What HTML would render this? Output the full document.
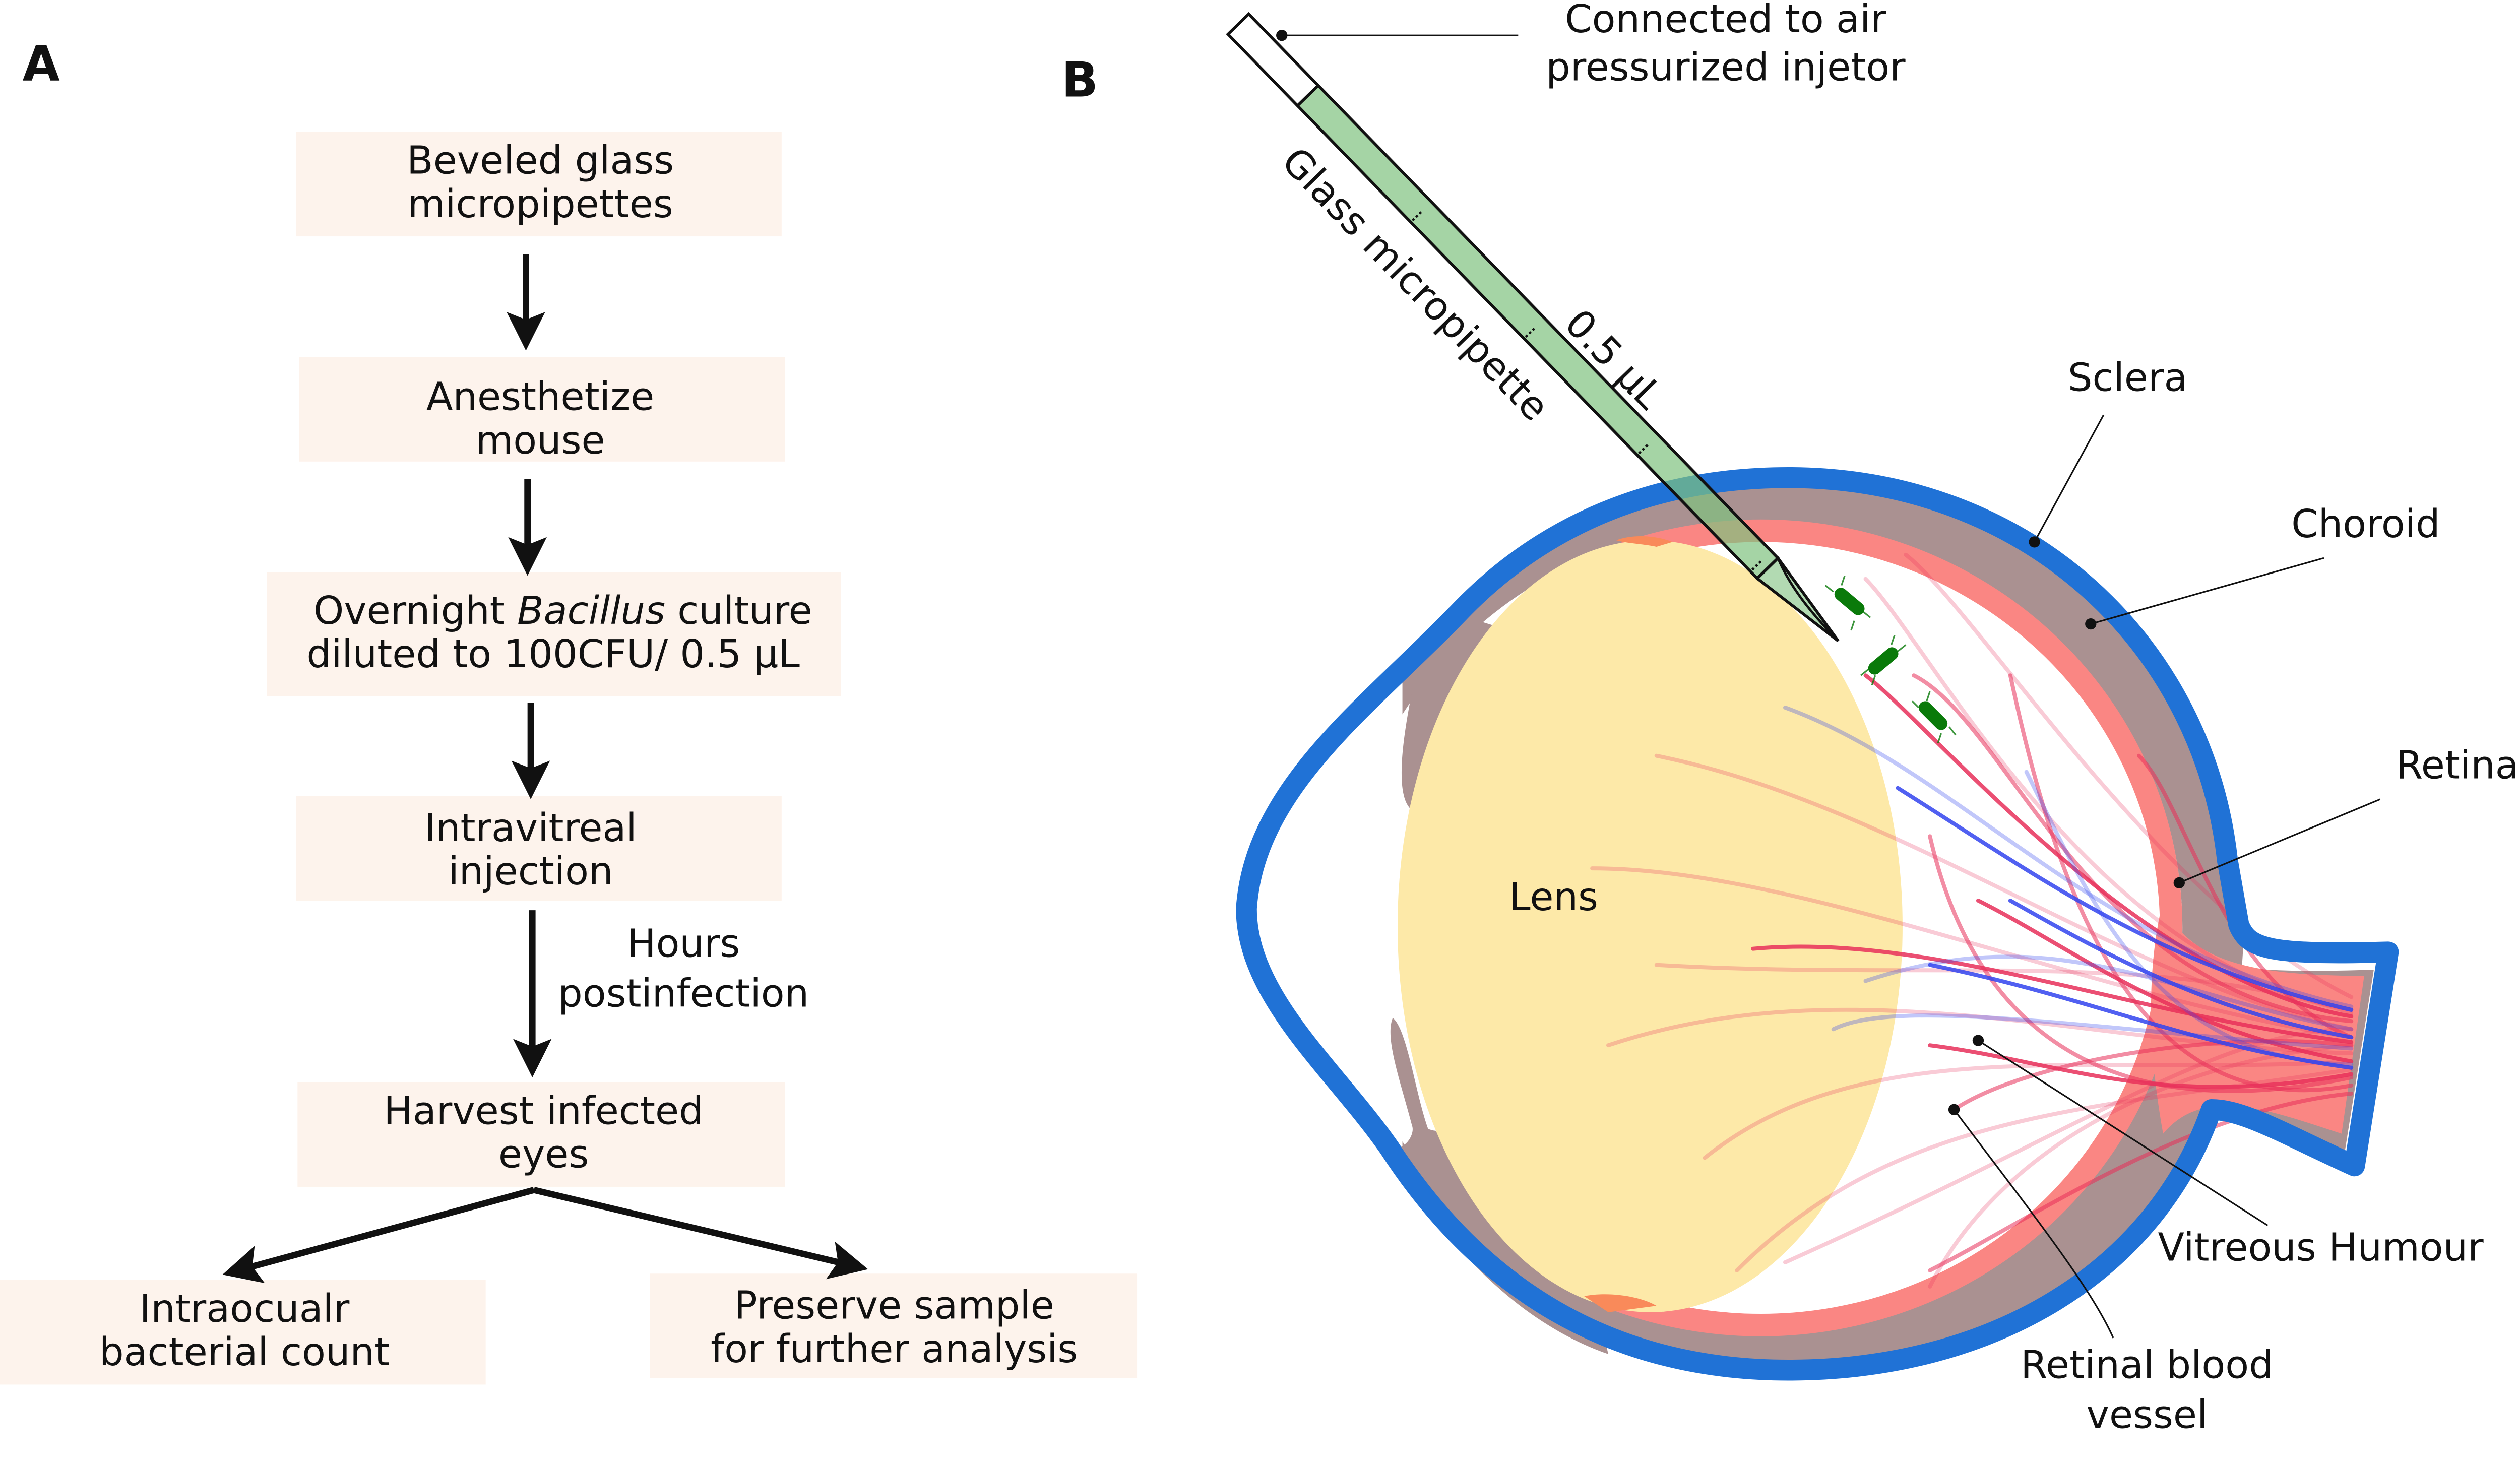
<!DOCTYPE html>
<html><head><meta charset="utf-8">
<style>
html,body{margin:0;padding:0;background:#fff;overflow:hidden;}
svg{display:block;}
text{font-family:"DejaVu Sans","Liberation Sans",sans-serif;fill:#111;}
</style></head>
<body>
<svg width="5119" height="2907" viewBox="0 0 1604 911" preserveAspectRatio="xMinYMin meet" xmlns="http://www.w3.org/2000/svg">
<defs>
<marker id="ah" markerWidth="6" markerHeight="6" refX="3.5" refY="3" orient="auto" markerUnits="strokeWidth">
<path d="M0,0 L6,3 L0,6 L1.2,3 Z" fill="#111"/>
</marker>
<clipPath id="eyeclip"><path id="P" d="M906,382 C960,325 1030,297 1112,297 C1260,297 1370,400 1385,535 L1392,575 C1398,590 1410,594 1485,592 L1464,725 C1420,705 1395,690 1375,690 C1340,790 1240,852 1112,852 C1000,852 920,800 864,714 C830,665 775,620 775,565 C780,490 850,440 906,382 Z"/></clipPath>
<clipPath id="frontcut"><rect x="872" y="0" width="800" height="900"/></clipPath>
<clipPath id="retcut"><rect x="995" y="0" width="700" height="900"/></clipPath>
</defs>

<!-- Panel A -->
<text x="14" y="50" font-size="30" font-weight="bold">A</text>
<g font-size="24" text-anchor="middle">
<rect x="184" y="82" width="302" height="65" fill="#fdf3ec"/>
<text x="336" y="108">Beveled glass</text><text x="336" y="135">micropipettes</text>
<rect x="186" y="222" width="302" height="65" fill="#fdf3ec"/>
<text x="336" y="255">Anesthetize</text><text x="336" y="282">mouse</text>
<rect x="166" y="356" width="357" height="77" fill="#fdf3ec"/>
<text x="350" y="388">Overnight <tspan font-style="italic">Bacillus</tspan> culture</text><text x="344" y="415">diluted to 100CFU/ 0.5 µL</text>
<rect x="184" y="495" width="302" height="65" fill="#fdf3ec"/>
<text x="330" y="523">Intravitreal</text><text x="330" y="550">injection</text>
<text x="425" y="595">Hours</text><text x="425" y="626">postinfection</text>
<rect x="185" y="673" width="303" height="65" fill="#fdf3ec"/>
<text x="338" y="699">Harvest infected</text><text x="338" y="726">eyes</text>
<rect x="0" y="796" width="302" height="65" fill="#fdf3ec"/>
<text x="152" y="822">Intraocualr</text><text x="152" y="849">bacterial count</text>
<rect x="404" y="792" width="303" height="65" fill="#fdf3ec"/>
<text x="556" y="820">Preserve sample</text><text x="556" y="847">for further analysis</text>
</g>
<g stroke="#111" stroke-width="4" fill="none" marker-end="url(#ah)">
<line x1="327" y1="158" x2="327" y2="208"/>
<line x1="328" y1="298" x2="328" y2="348"/>
<line x1="330" y1="437" x2="330" y2="487"/>
<line x1="331" y1="566" x2="331" y2="660"/>
<line x1="332" y1="740" x2="148" y2="790"/>
<line x1="332" y1="740" x2="530" y2="787"/>
</g>

<!-- Panel B -->
<text x="660" y="60" font-size="30" font-weight="bold">B</text>

<use href="#P" fill="#fff"/>
<g clip-path="url(#eyeclip)">
 <g clip-path="url(#frontcut)">
  <ellipse cx="1095" cy="577" rx="300" ry="290" fill="#aa9191"/>
 </g>
 <ellipse cx="1095" cy="577" rx="262" ry="253" fill="#fff"/>
 <g clip-path="url(#retcut)">
  <ellipse cx="1095" cy="577" rx="255" ry="247" fill="none" stroke="#fa8683" stroke-width="14"/>
 </g>
</g>
<!-- optic nerve -->
<path d="M1378,598 C1400,605 1440,604 1476,603 L1458,716 C1420,700 1395,692 1372,694 Z" fill="#aa9191"/>
<path d="M1345,560 C1360,605 1420,606 1470,607 L1456,705 C1410,690 1370,675 1345,705 C1335,650 1335,600 1345,560 Z" fill="#fa8683"/>
<!-- iris / ciliary gray front -->
<path d="M906,382 L942,393 C932,420 928,440 922,448 C905,443 896,450 893,462 C889,482 886,502 880,505 C868,500 870,470 878,430 C868,424 878,410 895,395 Z" fill="#aa9191"/>
<path d="M866,633 C875,640 880,680 888,702 C898,706 910,700 918,703 C935,760 960,790 992,808 L1000,842 C950,825 900,780 864,714 C874,716 880,705 878,700 C870,670 861,645 866,633 Z" fill="#aa9191"/>
<!-- lens -->
<ellipse cx="1026" cy="576" rx="157" ry="240" fill="#fde9a8"/>
<path d="M1005,336 C1015,332 1030,333 1040,337 L1030,340 C1020,338 1012,338 1005,336 Z" fill="#f98a5a"/>
<path d="M985,806 C1000,803 1020,806 1030,812 L1000,816 Z" fill="#f98a5a"/>
<!-- vessels -->
<g fill="none" stroke-width="2.5" stroke-linecap="round">
<g stroke="#e8305a" stroke-opacity="0.25">
<path d="M1462,628 C1300,600 1200,400 1160,360"/>
<path d="M1462,640 C1320,610 1180,500 1030,470"/>
<path d="M1462,645 C1300,620 1120,540 990,540"/>
<path d="M1462,655 C1300,650 1150,600 1000,650"/>
<path d="M1462,660 C1300,670 1160,640 1060,720"/>
<path d="M1462,665 C1300,690 1180,690 1080,790"/>
<path d="M1462,630 C1340,590 1200,610 1030,600"/>
<path d="M1462,650 C1340,660 1240,720 1200,800"/>
<path d="M1462,640 C1380,640 1300,700 1110,785"/>
<path d="M1462,620 C1340,560 1230,380 1185,345"/>
</g>
<g stroke="#e8305a" stroke-opacity="0.55">
<path d="M1462,635 C1300,620 1250,450 1190,420"/>
<path d="M1462,670 C1320,700 1230,650 1200,520"/>
<path d="M1462,675 C1330,700 1280,560 1250,420"/>
<path d="M1462,645 C1380,610 1360,500 1330,470"/>
<path d="M1462,680 C1360,690 1260,760 1200,790"/>
<path d="M1462,650 C1380,640 1260,660 1215,690"/>
</g>
<g stroke="#e8305a" stroke-opacity="0.85">
<path d="M1462,632 C1330,610 1200,450 1160,420"/>
<path d="M1462,648 C1320,630 1200,580 1090,590"/>
<path d="M1462,668 C1340,690 1280,660 1200,650"/>
<path d="M1462,660 C1350,640 1290,590 1230,560"/>
</g>
<g stroke="#3344ee" stroke-opacity="0.3">
<path d="M1462,626 C1300,590 1220,480 1110,440"/>
<path d="M1462,652 C1300,640 1180,620 1140,640"/>
<path d="M1462,662 C1340,660 1300,560 1260,480"/>
<path d="M1462,640 C1350,620 1280,570 1160,610"/>
</g>
<g stroke="#3344ee" stroke-opacity="0.85">
<path d="M1462,628 C1340,600 1260,540 1180,490"/>
<path d="M1462,664 C1360,650 1300,620 1200,600"/>
<path d="M1462,645 C1380,630 1320,600 1250,560"/>
</g>
</g>
<!-- sclera outline -->
<use href="#P" fill="none" stroke="#2072d6" stroke-width="13" stroke-linejoin="round"/>

<!-- pipette -->
<g transform="translate(770,15) rotate(45.8)">
<rect x="0" y="-9" width="62" height="18" fill="#fff" stroke="#111" stroke-width="1.8"/>
<rect x="62" y="-9" width="410" height="18" fill="#7fc27f" fill-opacity="0.7" stroke="#111" stroke-width="1.8"/>
<path d="M472,-9 L535,0 L472,9 Z" fill="#7fc27f" fill-opacity="0.6" stroke="#111" stroke-width="1.8"/>
<path d="M472,-9 C490,-2 510,0 535,0" fill="none" stroke="#111" stroke-width="1.5"/>
<g stroke="#111" stroke-width="1.5" stroke-dasharray="1.5 1.5">
<line x1="62" y1="0" x2="62" y2="9"/>
<line x1="163" y1="0" x2="163" y2="9"/>
<line x1="264" y1="0" x2="264" y2="9"/>
<line x1="365" y1="0" x2="365" y2="9"/>
<line x1="466" y1="0" x2="466" y2="9"/>
</g>
<text x="80" y="42" font-size="24">Glass micropipette</text>
<text x="275" y="-14" font-size="24">0.5 µL</text>
</g>
<!-- bacteria -->
<g stroke="#0b7a0b" stroke-width="1" fill="none" stroke-opacity="0.8">
<path d="M1140,368 l-5,-4 M1158,380 l5,4 M1145,364 l2,-6 M1153,386 l-2,6"/>
<path d="M1162,416 l-5,4 M1180,405 l5,-4 M1166,420 l-2,6 M1176,401 l2,-6"/>
<path d="M1193,440 l-4,-4 M1212,452 l4,5 M1198,436 l2,-6 M1207,456 l-2,6"/>
</g>
<g fill="#0a7a0a">
<rect x="1139" y="370" width="22" height="8" rx="4" transform="rotate(40 1150 374)"/>
<rect x="1160" y="407" width="22" height="8" rx="4" transform="rotate(-40 1171 411)"/>
<rect x="1191" y="441" width="22" height="8" rx="4" transform="rotate(45 1202 445)"/>
</g>

<g font-size="24" text-anchor="middle">
<text x="1073" y="20">Connected to air</text>
<text x="1073" y="50">pressurized injetor</text>
<text x="1323" y="243">Sclera</text>
<text x="1471" y="334">Choroid</text>
<text x="1528" y="484">Retina</text>
<text x="966" y="566">Lens</text>
<text x="1443" y="784">Vitreous Humour</text>
<text x="1335" y="857">Retinal blood</text>
<text x="1335" y="888">vessel</text>
</g>
<g stroke="#111" stroke-width="1" fill="none">
<line x1="797" y1="22" x2="944" y2="22"/>
<line x1="1308" y1="258" x2="1265" y2="337"/>
<line x1="1445" y1="347" x2="1300" y2="388"/>
<line x1="1480" y1="497" x2="1355" y2="549"/>
<line x1="1410" y1="762" x2="1230" y2="647"/>
<path d="M1314,832 C1300,800 1260,750 1215,690"/>
</g>
<g fill="#111">
<circle cx="797" cy="22" r="3.5"/><circle cx="1265" cy="337" r="3.5"/><circle cx="1300" cy="388" r="3.5"/>
<circle cx="1355" cy="549" r="3.5"/><circle cx="1230" cy="647" r="3.5"/><circle cx="1215" cy="690" r="3.5"/>
</g>
</svg>
</body></html>
